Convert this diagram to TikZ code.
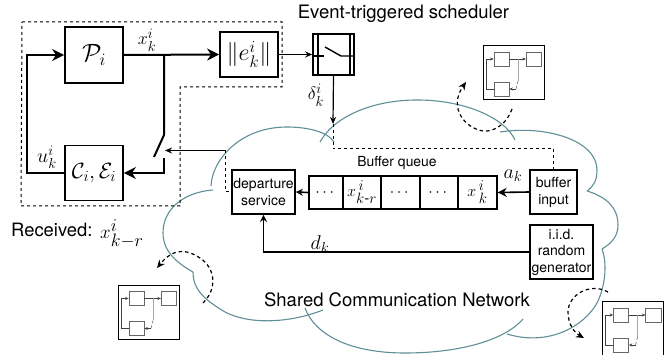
\documentclass[tikz,border=0pt]{standalone}
\usepackage{fix-cm}
\usepackage{amsmath}
\usepackage{fontspec}
\setmainfont{TeX Gyre Heros}
\usetikzlibrary{arrows.meta}
\DeclareMathSizes{16}{16}{15}{10}
\DeclareMathSizes{18}{18}{14.5}{11}
\DeclareMathSizes{19}{19}{18}{11}
\DeclareMathSizes{20}{20}{14.5}{11}
\definecolor{cloudc}{HTML}{5F8F97}
\newcommand{\fs}[1]{\fontsize{#1}{#1}\selectfont}
\tikzset{
  x=1pt,y=-1pt,
  blk/.style={draw=black,line width=1.8pt,inner sep=0pt,minimum width=#1},
  thick line/.style={line width=2pt},
  thin line/.style={line width=1.2pt},
  bigarrow/.style={-{Stealth[length=12pt,width=12pt]}},
  medarrow/.style={-{Stealth[length=7pt,width=7pt]}},
  smallarrow/.style={-{Stealth[length=7pt,width=6pt]}},
  dash line/.style={line width=1pt,dash pattern=on 3pt off 3pt},
  cloud arc/.style={draw=cloudc,line width=1.1pt},
  swing/.style={line width=1.2pt,dash pattern=on 3.5pt off 3pt,-{Stealth[length=8pt,width=7pt]}},
  mini/.pic={
    \node[draw=black,line width=1pt,minimum width=61pt,minimum height=54pt,inner sep=0pt] (-frame) at (30.5,27) {};
    \node[draw=black!60,line width=0.7pt,minimum width=15pt,minimum height=14pt,inner sep=0pt] (-a) at (18.5,13) {};
    \node[draw=black!60,line width=0.7pt,minimum width=15.5pt,minimum height=14pt,inner sep=0pt] (-b) at (51,13) {};
    \node[draw=black!60,line width=0.7pt,minimum width=15pt,minimum height=14pt,inner sep=0pt] (-c) at (18.5,43) {};
    \coordinate (-j) at (35,13);
    \coordinate (-k) at (35,35);
    \coordinate (-l) at (33,43);
    \coordinate (-m) at (3,43);
    \coordinate (-n) at (3,13);
    \draw[black!75,line width=0.6pt,-{Stealth[length=3.5pt,width=3pt]}] (-c.west) -- (-m) -- (-n) -- (-a.west);
    \draw[black!75,line width=0.6pt,-{Stealth[length=3.5pt,width=3pt]}] (-a.east) -- (-b.west);
    \draw[black!35,line width=1pt] (-j) -- (-k);
    \draw[black!60,line width=0.6pt,densely dashed] (-k) -- (-l);
    \draw[black!75,line width=0.6pt,-{Stealth[length=3.5pt,width=3pt]}] (-l) -- (-c.east);
  }
}
\begin{document}
\begin{tikzpicture}
\useasboundingbox (0,0) rectangle (670,355);
% cloud
\draw[cloud arc] (211,186) .. controls (212,160) and (240,127) .. (287,127) .. controls (308,127) and (328,132) .. (334,142);
\draw[cloud arc] (320,142) .. controls (335,115) and (375,100) .. (417,100) .. controls (465,100) and (505,118) .. (515,140);
\draw[cloud arc] (500,132) .. controls (545,125) and (597,140) .. (597,170) .. controls (597,180) and (594,186) .. (587,191);
\draw[cloud arc] (587,191) .. controls (607,197) and (618,208) .. (618,225) .. controls (618,236) and (612,243) .. (602,249);
\draw[cloud arc] (602,249) .. controls (607,262) and (606,285) .. (597,303) .. controls (585,325) and (550,347) .. (507,334);
\draw[cloud arc] (523,319) .. controls (505,340) and (460,353) .. (405,353) .. controls (350,353) and (315,335) .. (305,308);
\draw[cloud arc] (323,310) .. controls (290,323) and (250,325) .. (225,312) .. controls (205,300) and (193,290) .. (193,272);
\draw[cloud arc] (193,272) .. controls (175,262) and (163,250) .. (163,233) .. controls (163,208) and (185,192) .. (213,190);
% dashed box
\draw[dash line] (22,22) -- (282,22) -- (282,87) -- (180,87) -- (180,206) -- (21,206) -- cycle;
% blocks
\node[blk=58pt,minimum height=56pt] (P) at (94,55) {\fs{25}$\mathcal{P}_i$};
\node[blk=58pt,minimum height=55pt] (C) at (94,173) {\fs{22}$\mathcal{C}_i,\mathcal{E}_i$};
\node[blk=58pt,minimum height=45pt] (E) at (249,54.5) {\fs{24}$\|e_k^i\|$};
\node[draw=black,line width=1.6pt,minimum width=41pt,minimum height=41pt,inner sep=0pt] (S) at (333.5,54.5) {};
\coordinate (s1t) at (318,34); \coordinate (s1b) at (318,75);
\coordinate (s2t) at (350,34); \coordinate (s2b) at (350,75);
\draw[line width=1.5pt] (s1t) -- (s1b);
\draw[line width=1.5pt] (s2t) -- (s2b);
\coordinate (sa) at (313,56); \coordinate (sb) at (324,56);
\coordinate (sc) at (325,47); \coordinate (sd) at (341,56); \coordinate (se) at (354,56);
\draw[line width=1.4pt] (sa) -- (sb);
\draw[line width=1.4pt] (sc) -- (sd) -- (se);
\node[blk=63pt,minimum height=44pt,line width=1.6pt,align=center,font=\fs{14}] (D) at (263.5,192) {departure\\[3pt]service};
\node[blk=47pt,minimum height=44pt,line width=1.6pt,align=center,font=\fs{14}] (B) at (553.5,192) {buffer\\[3pt]input};
\node[blk=63pt,minimum height=54pt,line width=1.6pt,align=center,font=\fs{14}] (R) at (561.5,252) {i.i.d.\\[2.5pt]random\\[2.5pt]generator};
% queue
\node[draw=black,line width=1.4pt,minimum width=188pt,minimum height=33pt,inner sep=0pt] (Q) at (403,192.5) {};
\foreach \xx in {343,381,420,458}{\draw[line width=1.2pt] (\xx,176) -- (\xx,209);}
\node[inner sep=0pt] (q1) at (326,193) {\fs{16}$\cdots$};
\node[inner sep=0pt] (q2) at (362,192) {\fs{16}$x_{k\text{-}r}^{\,i}$};
\node[inner sep=0pt] (q3) at (400.5,193) {\fs{16}$\cdots$};
\node[inner sep=0pt] (q4) at (439,193) {\fs{16}$\cdots$};
\node[inner sep=0pt] (q5) at (477.5,192) {\fs{16}$x_{\,k}^{\,i}$};
% connectors
\coordinate (bp) at (164,55);
\coordinate (sw1) at (164,135); \coordinate (sw2) at (154,157);
\coordinate (sw3) at (164,158); \coordinate (sw4) at (164,173);
\coordinate (lb) at (27,173); \coordinate (lt) at (27,55);
\draw[thick line,bigarrow] (P.east) -- (E.west);
\draw[thick line] (bp) -- (sw1) -- (sw2);
\draw[thick line,bigarrow] (sw3) -- (sw4) -- (C.east);
\draw[thick line,bigarrow] (C.west) -- (lb) -- (lt) -- (P.west);
\draw[thin line,smallarrow] (E.east) -- (S.west);
\coordinate (dtip) at (333,124);
\draw[thin line,smallarrow] (S.south) -- (dtip);
\coordinate (tgt) at (165,150.5); \coordinate (dc) at (225,150.5);
\draw[thin line,smallarrow] (dc) -- (tgt);
\coordinate (dj1) at (333,149); \coordinate (dj2) at (553.5,149);
\draw[dash line] (dtip) -- (dj1) -- (dj2) -- (B.north);
\coordinate (dd) at (225,192);
\draw[dash line] (dc) -- (dd) -- (D.west);
\draw[line width=1.6pt,-{Stealth[length=9pt,width=9pt]}] (B.west) -- (Q.east);
\draw[line width=1.6pt,medarrow] (Q.west) -- (D.east);
\coordinate (rc) at (263.5,252);
\draw[line width=1.6pt,medarrow] (R.west) -- (rc) -- (D.south);
% labels
\node[inner sep=0pt] (lx) at (147,40) {\fs{18}$x_k^i$};
\node[inner sep=0pt] (lu) at (47,157) {\fs{20}$u_k^i$};
\node[inner sep=0pt] (ld) at (316,95) {\fs{18}$\delta_k^i$};
\node[inner sep=0pt] (la) at (513,176) {\fs{20}$a_k$};
\node[inner sep=0pt] (ldk) at (320,244) {\fs{20}$d_k$};
\node (t1) at (403.5,14) {\fs{18.5}Event-triggered scheduler};
\node (t2) at (397,163) {\fs{13.9}Buffer queue};
\node[anchor=west,inner sep=0pt] (t3) at (11,230) {\fs{18.4}Received:};
\node[anchor=west,inner sep=0pt] (t4) at (100,234) {\fs{19}$x_{k-r}^i$};
\node (t5) at (397,300) {\fs{18.5}Shared Communication Network};
% swings
\coordinate (a1) at (512,109); \coordinate (a2) at (466,82);
\draw[swing] (a1) .. controls (505,128) and (490,132) .. (483,131) .. controls (465,128) and (448,108) .. (a2);
\coordinate (b1) at (203,303); \coordinate (b2) at (157,268);
\draw[swing] (b1) .. controls (218,288) and (215,268) .. (200,258) .. controls (182,246) and (170,252) .. (b2);
\coordinate (c1) at (608,292); \coordinate (c2) at (584,338);
\draw[swing] (c1) .. controls (590,282) and (568,295) .. (568,312) .. controls (568,325) and (575,333) .. (c2);
% minis
\pic (m1) at (483,46) {mini};
\pic (m2) at (118,285.5) {mini};
\pic (m3) at (602.5,302) {mini};
\end{tikzpicture}
\end{document}
